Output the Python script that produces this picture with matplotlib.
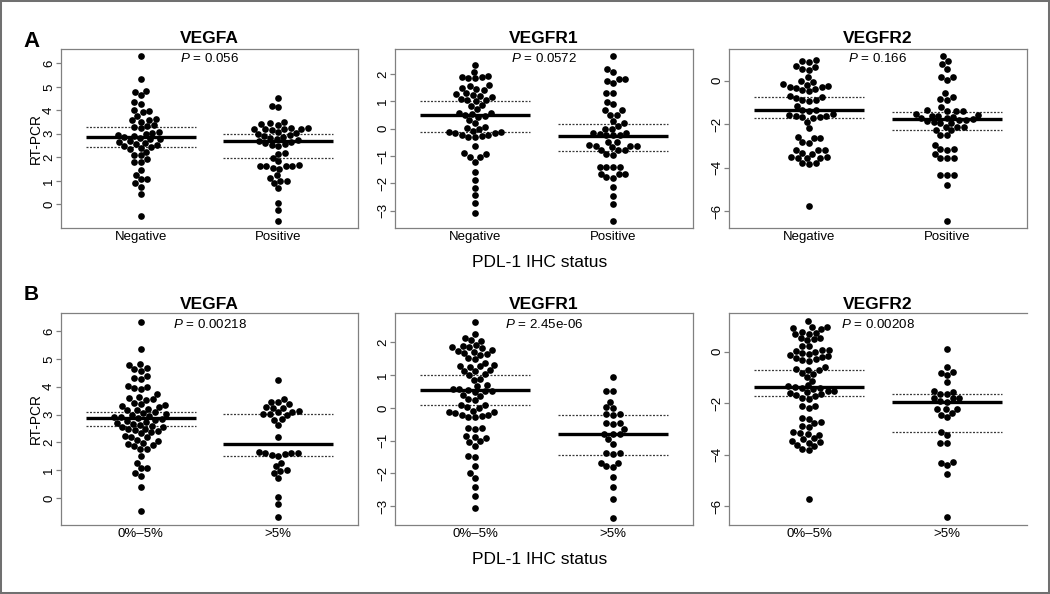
import numpy as np
import matplotlib
matplotlib.use("Agg")
import matplotlib.pyplot as plt
from matplotlib.patches import Rectangle

plt.rcParams['font.family'] = ['Liberation Sans', 'DejaVu Sans']
plt.rcParams['mathtext.fontset'] = 'custom'
plt.rcParams['mathtext.it'] = 'Liberation Sans:italic'
plt.rcParams['mathtext.rm'] = 'Liberation Sans'

# ---------------- data ----------------
genes = ["VEGFA", "VEGFR1", "VEGFR2"]
groups_A = ["Negative", "Positive"]
groups_B = ["0%\u20135%", ">5%"]
pvals_A = ["0.056", "0.0572", "0.166"]
pvals_B = ["0.00218", "2.45e-06", "0.00208"]
yticks = [[0, 1, 2, 3, 4, 5, 6], [-3, -2, -1, 0, 1, 2], [-6, -4, -2, 0]]

vegfa_neg = [6.33, 5.33, 4.84, 4.8, 4.65, 4.37, 4.27, 4.01, 3.95, 3.92, 3.76, 3.64, 3.6, 3.57, 3.52,
             3.36, 3.33, 3.3, 3.23, 3.09, 3.04, 3.0, 2.96, 2.92, 2.88, 2.84, 2.8, 2.76, 2.7, 2.66,
             2.62, 2.58, 2.53, 2.48, 2.44, 2.39, 2.34, 2.24, 2.11, 2.08, 1.91, 1.8, 1.78, 1.46, 1.25,
             1.09, 1.07, 0.89, 0.75, 0.43, -0.48]
vegfa_pos = [4.54, 4.2, 4.15, 3.5, 3.45, 3.4, 3.36, 3.25, 3.24, 3.22, 3.21, 3.2, 3.19, 3.18, 3.06,
             3.03, 2.99, 2.95, 2.91, 2.87, 2.83, 2.78, 2.74, 2.7, 2.65, 2.61, 2.57, 2.53, 2.5, 2.18,
             2.14, 1.99, 1.84, 1.67, 1.65, 1.64, 1.63, 1.62, 1.54, 1.52, 1.25, 1.13, 1.01, 0.99, 0.89,
             0.68, 0.07, -0.24, -0.71]
vegfr1_neg = [2.33, 2.09, 1.93, 1.91, 1.89, 1.87, 1.85, 1.6, 1.57, 1.48, 1.46, 1.41, 1.31, 1.28, 1.25,
              1.21, 1.18, 1.1, 1.07, 1.05, 1.03, 0.88, 0.85, 0.72, 0.58, 0.56, 0.54, 0.52, 0.46, 0.43,
              0.32, 0.22, 0.07, 0.04, 0.01, -0.08, -0.1, -0.12, -0.14, -0.16, -0.21, -0.24, -0.27,
              -0.29, -0.31, -0.62, -0.9, -0.92, -1.02, -1.04, -1.2, -1.57, -1.88, -2.16, -2.43, -2.7,
              -3.07]
vegfr1_pos = [2.67, 2.18, 2.09, 1.82, 1.81, 1.76, 1.68, 1.32, 1.31, 0.99, 0.89, 0.68, 0.67, 0.52, 0.51,
              0.29, 0.2, 0.1, 0.01, 0.0, -0.16, -0.17, -0.18, -0.22, -0.23, -0.24, -0.48, -0.49, -0.61,
              -0.62, -0.63, -0.64, -0.66, -0.77, -0.78, -0.79, -0.93, -0.95, -1.38, -1.39, -1.4, -1.41,
              -1.65, -1.66, -1.67, -1.78, -1.8, -2.12, -2.45, -2.77, -3.37]
vegfr2_neg = [0.95, 0.9, 0.88, 0.66, 0.63, 0.53, 0.5, 0.15, -0.03, -0.07, -0.15, -0.19, -0.23, -0.27,
              -0.31, -0.35, -0.39, -0.45, -0.48, -0.72, -0.75, -0.78, -0.87, -0.9, -0.93, -1.17, -1.33,
              -1.36, -1.39, -1.55, -1.58, -1.61, -1.63, -1.66, -1.69, -1.72, -1.89, -2.19, -2.6, -2.62,
              -2.64, -2.83, -2.86, -3.17, -3.19, -3.21, -3.33, -3.36, -3.5, -3.52, -3.54, -3.56, -3.58,
              -3.78, -3.8, -3.83, -5.75]
vegfr2_pos = [1.15, 0.92, 0.75, 0.54, 0.18, 0.17, 0.03, -0.58, -0.74, -0.86, -0.87, -1.23, -1.37, -1.38,
              -1.39, -1.4, -1.55, -1.58, -1.61, -1.64, -1.67, -1.7, -1.73, -1.77, -1.8, -1.83, -1.86,
              -1.9, -1.93, -1.96, -2.11, -2.12, -2.13, -2.26, -2.28, -2.49, -2.51, -2.96, -3.15, -3.16,
              -3.17, -3.37, -3.56, -3.57, -3.58, -4.33, -4.34, -4.35, -4.8, -6.46]

vegfa_lo = [6.33, 5.34, 4.82, 4.79, 4.67, 4.63, 4.58, 4.37, 4.33, 4.27, 4.04, 4.0, 3.95, 3.91, 3.74,
            3.62, 3.59, 3.56, 3.53, 3.42, 3.39, 3.33, 3.3, 3.27, 3.21, 3.18, 3.15, 3.08, 3.05, 3.02,
            2.99, 2.96, 2.93, 2.9, 2.87, 2.84, 2.81, 2.78, 2.74, 2.7, 2.67, 2.64, 2.6, 2.57, 2.54,
            2.5, 2.47, 2.44, 2.4, 2.36, 2.33, 2.25, 2.21, 2.18, 2.1, 2.07, 1.98, 1.95, 1.9, 1.87,
            1.78, 1.76, 1.52, 1.28, 1.1, 1.08, 0.92, 0.78, 0.42, -0.45]
vegfa_hi = [4.24, 3.56, 3.47, 3.45, 3.38, 3.26, 3.25, 3.24, 3.12, 3.11, 3.1, 3.02, 3.01, 3.0, 2.84,
            2.82, 2.63, 2.19, 1.65, 1.64, 1.63, 1.62, 1.6, 1.54, 1.52, 1.28, 1.16, 1.0, 0.98, 0.9,
            0.72, 0.06, -0.2, -0.68]
vegfr1_lo = [2.63, 2.27, 2.15, 2.06, 2.03, 1.92, 1.9, 1.87, 1.85, 1.82, 1.78, 1.75, 1.72, 1.68, 1.65,
             1.62, 1.52, 1.49, 1.38, 1.31, 1.29, 1.27, 1.25, 1.16, 1.14, 1.12, 1.03, 1.0, 0.88, 0.85,
             0.71, 0.68, 0.59, 0.57, 0.55, 0.53, 0.51, 0.49, 0.4, 0.37, 0.27, 0.24, 0.1, 0.08, 0.02,
             -0.01, -0.1, -0.12, -0.14, -0.16, -0.21, -0.23, -0.25, -0.27, -0.29, -0.6, -0.62, -0.64,
             -0.87, -0.89, -0.92, -1.02, -1.05, -1.16, -1.46, -1.49, -1.77, -1.98, -2.13, -2.41,
             -2.69, -3.05]
vegfr1_hi = [0.95, 0.52, 0.51, 0.19, 0.02, 0.0, -0.19, -0.2, -0.21, -0.46, -0.47, -0.48, -0.65, -0.79,
             -0.8, -0.81, -0.96, -1.09, -1.38, -1.39, -1.4, -1.67, -1.69, -1.79, -1.81, -2.1, -2.43,
             -2.77, -3.36]
vegfr2_lo = [1.17, 0.97, 0.94, 0.91, 0.88, 0.76, 0.73, 0.7, 0.67, 0.54, 0.51, 0.48, 0.45, 0.23, 0.2,
             0.08, 0.05, 0.02, -0.01, -0.05, -0.08, -0.15, -0.18, -0.21, -0.24, -0.3, -0.33, -0.36,
             -0.58, -0.67, -0.7, -0.73, -0.83, -0.86, -0.97, -1.13, -1.31, -1.34, -1.37, -1.4, -1.43,
             -1.46, -1.52, -1.55, -1.58, -1.61, -1.65, -1.68, -1.71, -1.8, -1.83, -2.1, -2.13, -2.18,
             -2.58, -2.61, -2.75, -2.78, -2.9, -2.93, -3.14, -3.17, -3.2, -3.23, -3.36, -3.39, -3.48,
             -3.51, -3.54, -3.64, -3.67, -3.79, -3.82, -5.73]
vegfr2_hi = [0.1, -0.58, -0.81, -0.83, -0.91, -1.2, -1.54, -1.56, -1.64, -1.66, -1.8, -1.81, -1.82,
             -1.93, -1.95, -2.23, -2.24, -2.25, -2.37, -2.46, -2.55, -3.11, -3.24, -3.55, -3.57, -4.3,
             -4.32, -4.4, -4.77, -6.44]

# summary lines: (median, lower quartile, upper quartile)
summ_A = [[(2.88, 2.44, 3.29), (2.68, 1.99, 3.01)],
          [(0.50, -0.12, 1.01), (-0.26, -0.80, 0.18)],
          [(-1.35, -1.73, -0.75), (-1.76, -2.27, -1.44)]]
summ_B = [[(2.89, 2.59, 3.11), (1.95, 1.52, 3.02)],
          [(0.54, 0.08, 1.01), (-0.80, -1.45, -0.22)],
          [(-1.36, -1.71, -0.71), (-1.94, -3.13, -1.63)]]

data_A = [[vegfa_neg, vegfa_pos], [vegfr1_neg, vegfr1_pos], [vegfr2_neg, vegfr2_pos]]
data_B = [[vegfa_lo, vegfa_hi], [vegfr1_lo, vegfr1_hi], [vegfr2_lo, vegfr2_hi]]
ylims_A = [(-1.01, 6.61), (-3.63, 2.92), (-6.78, 1.46)]
ylims_B = [(-0.96, 6.645), (-3.58, 2.90), (-6.74, 1.50)]

# ---------------- figure ----------------
W, H = 1050, 594
fig = plt.figure(figsize=(W / 100, H / 100), dpi=100)
fig.patches.append(Rectangle((0, 0), 1, 1, transform=fig.transFigure, fill=False,
                             edgecolor='#707070', linewidth=2.9, zorder=10))

cols_px = [(61, 358), (395, 693), (729, 1027)]
rows_px = [(49, 228), (313, 525)]
GRAY = '#808080'
DOT_D = 6.7  # marker diameter in pixels


def swarm(ypx, d):
    order = np.argsort(ypx, kind='stable')
    px, py = [], []
    xs = np.zeros(len(ypx))
    for i in order:
        y = ypx[i]
        cands = [0.0]
        for a, b in zip(px, py):
            dy = abs(b - y)
            if dy < d:
                dx = np.sqrt(d * d - dy * dy)
                cands += [a + dx, a - dx]
        cands = sorted(set(cands), key=lambda c: (abs(c), c))
        chosen = 0.0
        for c in cands:
            if all((c - a) ** 2 + (y - b) ** 2 >= d * d - 1e-6 for a, b in zip(px, py)):
                chosen = c
                break
        xs[i] = chosen
        px.append(chosen)
        py.append(y)
    return xs


def panel(ri, ci, groups, data, summ, ylim, pval, title_pad, ptext_off):
    l, r = cols_px[ci]
    t, b = rows_px[ri]
    ax = fig.add_axes([l / W, 1 - b / H, (r - l) / W, (b - t) / H])
    ax.set_xlim(0.42, 2.58)
    ax.set_ylim(*ylim)
    for s in ax.spines.values():
        s.set_color(GRAY)
        s.set_linewidth(0.9)
    if ri == 1 and ci == 2:
        ax.spines['right'].set_visible(False)
    ax.set_xticks([1, 2])
    ax.set_xticklabels(groups, fontsize=9.5)
    ax.set_yticks(yticks[ci])
    ax.set_yticklabels([str(v).replace('-', '\u2212') for v in yticks[ci]], fontsize=9.5,
                       rotation=90, va='center')
    ax.tick_params(axis='x', length=0, pad=2)
    ax.tick_params(axis='y', length=3.5, width=0.9, color=GRAY, pad=0.8)
    for gi, vals in enumerate(data):
        pos = gi + 1
        med, q1, q3 = summ[gi]
        ax.hlines([q1, q3], pos - 0.4, pos + 0.4, colors='#3a3a3a', linewidth=0.9,
                  linestyles=(0, (1.6, 1.2)), zorder=1)
        ax.hlines([med], pos - 0.4, pos + 0.4, colors='black', linewidth=2.4, zorder=2)
        v = np.asarray(vals, dtype=float)
        disp = ax.transData.transform(np.column_stack([np.full(len(v), pos), v]))
        offs = swarm(disp[:, 1], DOT_D)
        back = ax.transData.inverted().transform(np.column_stack([disp[:, 0] + offs, disp[:, 1]]))
        ax.scatter(back[:, 0], back[:, 1], s=(DOT_D * 0.72) ** 2, color='black',
                   linewidths=0, zorder=3, clip_on=False)
    ax.set_title(genes[ci], fontsize=12.5, fontweight='bold', pad=title_pad)
    ax.annotate(r'$\mathit{P}$ = ' + pval, xy=(0.5, 1), xycoords='axes fraction',
                xytext=(0, -ptext_off), textcoords='offset pixels', ha='center', va='top',
                fontsize=9.6)
    if ci == 0:
        ax.set_ylabel('RT-PCR', fontsize=9.9, va='center')
        ax.yaxis.set_label_coords(-25 / (r - l), 0.5)
    return ax


for ci in range(3):
    panel(0, ci, groups_A, data_A[ci], summ_A[ci], ylims_A[ci], pvals_A[ci], 4.5, 3)
    panel(1, ci, groups_B, data_B[ci], summ_B[ci], ylims_B[ci], pvals_B[ci], 2.7, 5)

fig.text(540 / W, 1 - 267 / H, 'PDL-1 IHC status', ha='center', va='baseline', fontsize=12.5)
fig.text(540 / W, 1 - 564 / H, 'PDL-1 IHC status', ha='center', va='baseline', fontsize=12.5)
fig.text(23 / W, 1 - 47 / H, 'A', ha='left', va='baseline', fontsize=16, fontweight='bold')
fig.text(24 / W, 1 - 300 / H, 'B', ha='left', va='baseline', fontsize=15, fontweight='bold')

fig.savefig('out.png', dpi=100)
